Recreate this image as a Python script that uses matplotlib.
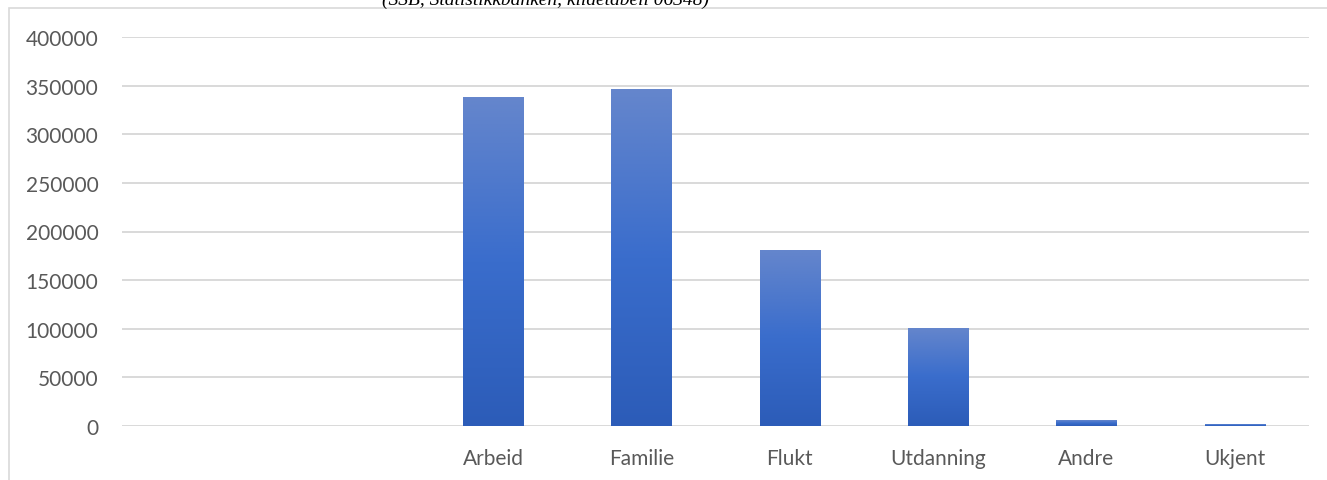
import matplotlib.pyplot as plt
import matplotlib.patches as mpatches
from matplotlib.colors import LinearSegmentedColormap
import numpy as np

# data (first two categories are empty in the source)
kategorier = ["", "", "Arbeid", "Familie", "Flukt", "Utdanning", "Andre", "Ukjent"]
verdier = [0, 0, 338000, 346500, 181000, 101000, 6000, 2000]
yticks = [0, 50000, 100000, 150000, 200000, 250000, 300000, 350000, 400000]
tittel = "(SSB, Statistikkbanken, kildetabell 06348)"

W, H = 1327, 481
fig = plt.figure(figsize=(W / 100, H / 100), dpi=100)
ax = fig.add_axes([122 / W, 1 - 427 / H, 1187 / W, 389 / H])

grad = LinearSegmentedColormap.from_list("g", ["#2c5cb8", "#3a6dcc", "#6586cc"])

x = np.arange(len(kategorier))
bars = ax.bar(x, verdier, width=0.405, color="none", edgecolor="none", zorder=3)
for b in bars:
    h = b.get_height()
    if h <= 0:
        continue
    x0 = b.get_x()
    im = ax.imshow(np.linspace(0, 1, 256).reshape(-1, 1), cmap=grad, origin="lower",
                   extent=[x0, x0 + b.get_width(), 0, h], aspect="auto", zorder=3)
    im.set_clip_path(b)

ax.set_xlim(-0.5, len(kategorier) - 0.5)
ax.set_ylim(0, 400000)
ax.set_yticks(yticks)
ax.set_yticklabels([str(v) for v in yticks])
ax.set_xticks(x)
ax.set_xticklabels(kategorier)

for s in ax.spines.values():
    s.set_visible(False)
ax.grid(axis="y", color="#d9d9d9", linewidth=1.4, zorder=0)
ax.set_axisbelow(True)
ax.tick_params(axis="both", length=0, colors="#595959", labelsize=15)
ax.tick_params(axis="y", pad=17)
ax.tick_params(axis="x", pad=16)
for lab in ax.get_xticklabels() + ax.get_yticklabels():
    lab.set_family("Lato")

# frame around the chart area (cut off at right and bottom)
fig.patches.append(mpatches.Rectangle((9 / W, -0.1), 1.2, 1.1 - 9 / H, transform=fig.transFigure,
                                      fill=False, edgecolor="#d9d9d9", linewidth=1.2))

# source line sits above the frame and is clipped by the top edge, as in the original
fig.text(546 / W, 1 - 5 / H, tittel, ha="center", va="baseline", fontsize=14,
         family="Liberation Serif", style="italic", color="#000000")

fig.savefig("out.png", dpi=100)
